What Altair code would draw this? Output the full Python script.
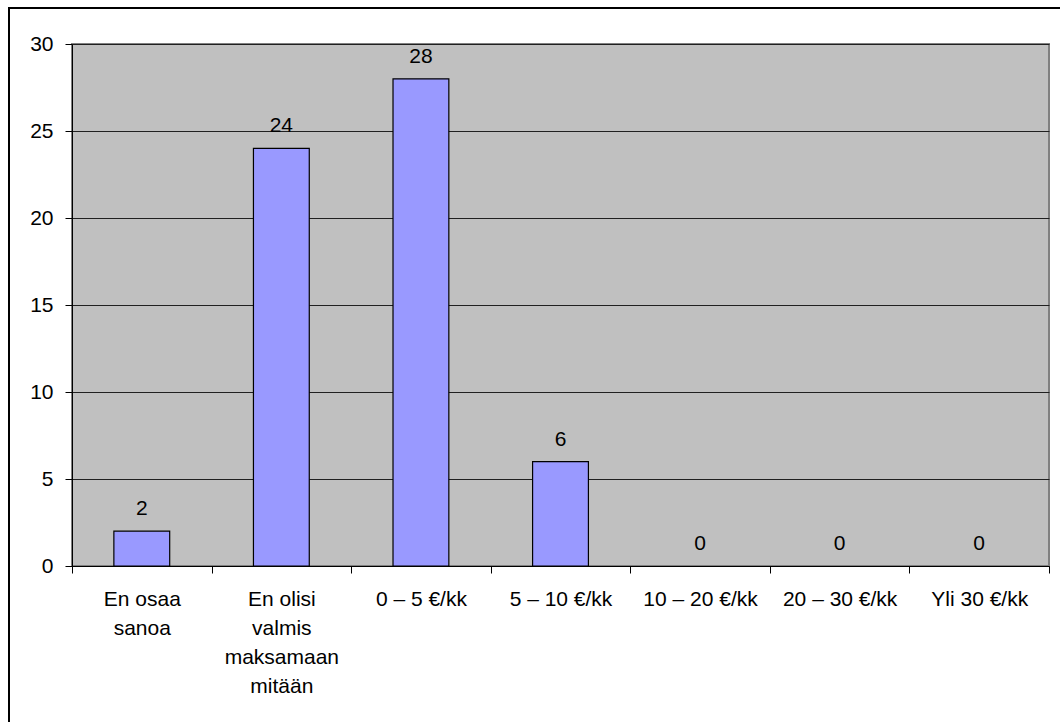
import altair as alt
import pandas as pd

categories = [
    "En osaa\nsanoa",
    "En olisi\nvalmis\nmaksamaan\nmitään",
    "0 – 5 €/kk",
    "5 – 10 €/kk",
    "10 – 20 €/kk",
    "20 – 30 €/kk",
    "Yli 30 €/kk",
]
values = [2, 24, 28, 6, 0, 0, 0]
y_ticks = [0, 5, 10, 15, 20, 25, 30]

df = pd.DataFrame({"cat": categories, "val": values})

FONT = "Liberation Sans"
FS = 21

x_enc = alt.X(
    "cat:N",
    sort=categories,
    scale=alt.Scale(paddingInner=0, paddingOuter=0),
    axis=alt.Axis(
        title=None,
        labelAngle=0,
        labelExpr="split(datum.label, '\\n')",
        labelFont=FONT,
        labelFontSize=FS,
        labelColor="#000000",
        labelLineHeight=29,
        labelPadding=15,
        labelBaseline="top",
        tickBand="extent",
        tickSize=7,
        tickColor="#000000",
        domainColor="#000000",
        labelLimit=200,
    ),
)

y_enc = alt.Y(
    "val:Q",
    scale=alt.Scale(domain=[0, 30], nice=False),
    axis=alt.Axis(
        title=None,
        values=y_ticks,
        labelFont=FONT,
        labelFontSize=FS,
        labelColor="#000000",
        labelPadding=12,
        tickSize=7,
        tickColor="#000000",
        domainColor="#000000",
        grid=True,
        gridColor="#202020",
        gridWidth=1,
    ),
)

bars = (
    alt.Chart(df)
    .transform_filter("datum.val > 0")
    .mark_bar(color="#9999FF", stroke="#000000", strokeWidth=1.2, width=alt.RelativeBandSize(0.4))
    .encode(x=x_enc, y=y_enc)
)

labels = alt.Chart(df).mark_text(
    font=FONT, fontSize=FS, color="#000000", baseline="alphabetic", dy=-16
).encode(x=alt.X("cat:N", sort=categories), y="val:Q", text="val:Q")

border_left = alt.Chart(df).mark_rule(color="#000000", strokeWidth=2).encode(
    x=alt.value(-63), y=alt.value(-36), y2=alt.value(700)
)
border_top = alt.Chart(df).mark_rule(color="#000000", strokeWidth=2).encode(
    x=alt.value(-64), x2=alt.value(1000), y=alt.value(-36)
)

chart = (
    alt.layer(bars, labels, border_left, border_top)
    .properties(
        width=977,
        height=522,
        autosize=alt.AutoSizeParams(type="none"),
        padding={"left": 72, "top": 44, "right": 11, "bottom": 156},
        background="#FFFFFF",
    )
    .configure_view(fill="#C0C0C0", stroke="#808080", strokeWidth=2)
)

chart.save("out.html", embed_options={"renderer": "svg", "actions": False})
